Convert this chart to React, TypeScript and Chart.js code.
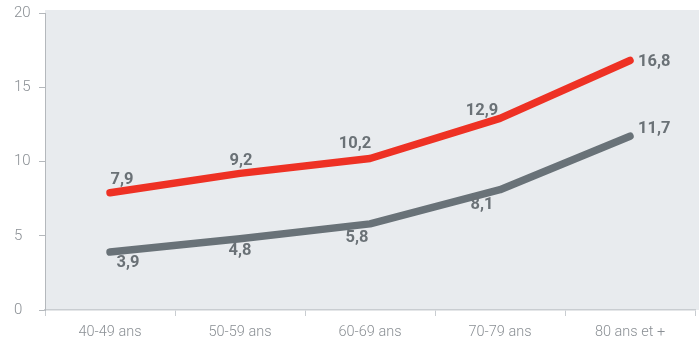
import React, { useEffect, useRef } from "react";
import { Chart, registerables } from "chart.js";

Chart.register(...registerables);

const categories = ["40-49 ans", "50-59 ans", "60-69 ans", "70-79 ans", "80 ans et +"];
const redValues = [7.9, 9.2, 10.2, 12.9, 16.8];
const grayValues = [3.9, 4.8, 5.8, 8.1, 11.7];
const yTicks = [0, 5, 10, 15, 20];

// label placement styles (offset from point in px, alignment)
const redLabelStyle = [
  { dx: 12, dy: -13, align: "center" },
  { dx: 1, dy: -13, align: "center" },
  { dx: -15, dy: -15, align: "center" },
  { dx: -18, dy: -8, align: "center" },
  { dx: 8, dy: 1, align: "left" },
];
const grayLabelStyle = [
  { dx: 18, dy: 11, align: "center" },
  { dx: 0, dy: 12, align: "center" },
  { dx: -13, dy: 14, align: "center" },
  { dx: -18, dy: 15, align: "center" },
  { dx: 8, dy: -7, align: "left" },
];

const FONT = "Roboto, 'Liberation Sans', sans-serif";
const fmt = (v: number) => v.toFixed(1).replace(".", ",");

const bgPlugin = {
  id: "bgPlugin",
  beforeDraw(chart: any) {
    const { ctx, chartArea } = chart;
    ctx.save();
    ctx.fillStyle = "#e8ebee";
    ctx.fillRect(chartArea.left, chartArea.top - 3, chart.width - chartArea.left, chartArea.bottom - chartArea.top + 3);
    ctx.restore();
  },
};

const labelPlugin = {
  id: "labelPlugin",
  afterDatasetsDraw(chart: any) {
    const { ctx } = chart;
    const styles = [redLabelStyle, grayLabelStyle];
    ctx.save();
    ctx.font = `bold 16.5px ${FONT}`;
    ctx.fillStyle = "#6a7176";
    ctx.textBaseline = "middle";
    chart.data.datasets.forEach((ds: any, di: number) => {
      const meta = chart.getDatasetMeta(di);
      meta.data.forEach((pt: any, i: number) => {
        const s = styles[di][i];
        ctx.textAlign = s.align;
        ctx.fillText(fmt(ds.data[i]), pt.x + s.dx, pt.y + s.dy);
      });
    });
    ctx.restore();
  },
};

export default function App() {
  const ref = useRef<HTMLCanvasElement>(null);
  useEffect(() => {
    document.body.style.margin = "0";
    const chart = new Chart(ref.current!, {
      type: "line",
      data: {
        labels: categories,
        datasets: [
          {
            data: redValues,
            borderColor: "#ee3124",
            borderWidth: 7.5,
            borderCapStyle: "round",
            borderJoinStyle: "round",
            pointRadius: 0,
            tension: 0,
          },
          {
            data: grayValues,
            borderColor: "#697278",
            borderWidth: 7.5,
            borderCapStyle: "round",
            borderJoinStyle: "round",
            pointRadius: 0,
            tension: 0,
          },
        ],
      },
      options: {
        animation: false,
        responsive: false,
        layout: { padding: { left: 14, top: 11, right: 4, bottom: 0 } },
        plugins: { legend: { display: false }, tooltip: { enabled: false } },
        scales: {
          x: {
            offset: true,
            afterFit: (scale: any) => {
              scale.height = 35;
            },
            grid: {
              offset: true,
              drawOnChartArea: false,
              drawTicks: true,
              tickLength: 6,
              color: "#c9cdd1",
            },
            border: { display: true, color: "#c9cdd1", width: 1.5 },
            ticks: {
              color: "#8a8f94",
              font: { family: FONT, size: 14.5, weight: "300" },
              padding: 8,
              maxRotation: 0,
            },
          },
          y: {
            min: 0,
            max: 20,
            afterBuildTicks: (scale: any) => {
              scale.ticks = yTicks.map((v) => ({ value: v }));
            },
            afterFit: (scale: any) => {
              scale.width = 31;
            },
            grid: {
              drawOnChartArea: false,
              drawTicks: true,
              tickLength: 6,
              color: "#b4b8bc",
            },
            border: { display: true, color: "#b4b8bc", width: 1 },
            ticks: {
              color: "#8a8f94",
              font: { family: FONT, size: 15, weight: "300" },
              crossAlign: "far",
              padding: 4,
            },
          },
        },
      },
      plugins: [bgPlugin, labelPlugin],
    });
    return () => chart.destroy();
  }, []);
  return <canvas ref={ref} width={699} height={345} style={{ display: "block" }} />;
}
